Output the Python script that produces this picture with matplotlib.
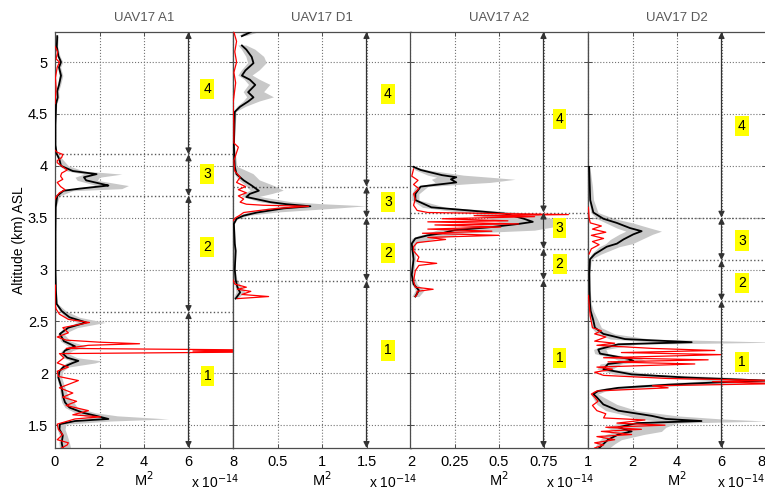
import numpy as np
import matplotlib
matplotlib.use("Agg")
import matplotlib.pyplot as plt

plt.rcParams['font.family'] = ['Liberation Sans', 'DejaVu Sans']

nan = np.nan

# ---------------- data ----------------
titles = ['UAV17 A1', 'UAV17 D1', 'UAV17 A2', 'UAV17 D2']
xlims = [8, 2, 1, 8]
xtick_vals = [[0, 2, 4, 6, 8], [0, 0.5, 1, 1.5, 2], [0, 0.25, 0.5, 0.75, 1], [0, 2, 4, 6, 8]]
xtick_labels = [['0', '2', '4', '6', '8'], ['', '0.5', '1', '1.5', '2'],
                ['', '0.25', '0.5', '0.75', '1'], ['', '2', '4', '6', '8']]
ytick_vals = [1.5, 2, 2.5, 3, 3.5, 4, 4.5, 5]
ytick_labels = ['1.5', '2', '2.5', '3', '3.5', '4', '4.5', '5']

# A1
a1_alt = [1.28, 1.33, 1.40, 1.46, 1.51, 1.54, 1.56, 1.59, 1.62, 1.67, 1.72, 1.77, 1.86, 1.96, 2.02,
          2.06, 2.10, 2.12, 2.15, 2.19, 2.22, 2.26, 2.31, 2.38, 2.44, 2.49, 2.54, 2.60, 2.67, 2.80,
          3.00, 3.35, 3.60, 3.71, 3.76, 3.78, 3.81, 3.82, 3.86, 3.89, 3.92, 3.95, 4.00, 4.06, 4.12,
          4.20, 4.40, 4.60, 4.66, 4.72, 4.78, 4.87, 4.95, 5.00, 5.06, 5.15, 5.25]
a1_black = [0.35, 0.30, 0.35, 0.20, 0.22, 0.9, 2.4, 1.85, 1.25, 0.65, 0.45, 0.37, 0.30, 0.15, 0.20,
            0.37, 0.8, 1.05, 0.55, 0.35, 0.45, 0.9, 0.4, 0.22, 0.6, 1.4, 0.65, 0.30, 0.07, 0.04,
            0.02, 0.02, 0.03, 0.10, 0.38, 1.1, 2.4, 2.2, 1.4, 1.3, 1.87, 0.8, 0.27, 0.2, 0.07,
            0.02, 0.02, 0.05, 0.12, 0.10, 0.18, 0.27, 0.18, 0.27, 0.15, 0.08, 0.10]
a1_gray_lo = [0.2, 0.18, 0.2, 0.1, 0.12, 0.5, 1.6, 1.3, 0.9, 0.45, 0.3, 0.25, 0.2, 0.08, 0.12,
              0.25, 0.5, 0.7, 0.35, 0.2, 0.3, 0.6, 0.25, 0.12, 0.4, 1.0, 0.45, 0.2, 0.04, 0.02,
              0.01, 0.01, 0.02, 0.06, 0.25, 0.8, 1.8, 1.7, 1.0, 0.9, 1.3, 0.55, 0.18, 0.12, 0.04,
              0.01, 0.01, 0.03, 0.08, 0.07, 0.12, 0.18, 0.12, 0.18, 0.1, 0.05, 0.06]
a1_gray_hi = [0.7, 0.65, 0.55, 0.45, 0.5, 2.5, 5.1, 2.8, 1.8, 1.0, 0.85, 0.6, 0.45, 0.3, 0.35,
              0.6, 1.8, 2.1, 1.0, 0.6, 0.8, 1.4, 0.7, 0.4, 1.0, 2.25, 1.1, 0.5, 0.12, 0.06,
              0.03, 0.03, 0.05, 0.2, 0.8, 3.0, 3.3, 3.0, 1.9, 2.0, 3.0, 1.3, 0.6, 0.35, 0.12,
              0.03, 0.03, 0.08, 0.18, 0.16, 0.25, 0.35, 0.25, 0.35, 0.22, 0.12, 0.15]
a1_red_alt = [1.28, 1.31, 1.33, 1.36, 1.41, 1.46, 1.51, 1.56, 1.58, 1.60, 1.64, 1.69, 1.73, 1.77,
              1.81, 1.86, 1.93, 1.97, 2.02, 2.06, 2.10, 2.15, 2.19, 2.205, 2.215, 2.225, 2.24,
              2.27, 2.285, 2.30, 2.32, 2.35, 2.39, 2.44, 2.49, 2.52, 2.57, 2.62, 2.67, 2.85,
              2.86,
              3.68, 3.70, 3.74, 3.77, 3.80, 3.84, 3.87, 3.90, 3.93, 3.96, 3.99, 4.03, 4.05, 4.08,
              4.11, 4.13, 4.15,
              4.16,
              4.60, 4.75, 4.85, 4.95, 5.00, 5.03, 5.10, 5.15]
a1_red = [0.3, 0.55, 0.6, 0.1, 0.35, 0.15, 0.1, 0.9, 2.05, 0.8, 1.5, 0.5, 0.97, 0.35,
          0.8, 0.2, 1.05, 0.15, 0.1, 0.6, 0.1, 0.4, 0.2, 9.0, 6.2, 9.0, 0.5,
          1.5, 3.8, 2.0, 0.5, 0.1, 0.6, 0.35, 1.55, 0.6, 0.2, 0.05, 0.0, 0.02,
          nan,
          0.0, 0.05, 0.2, 0.45, 0.25, 0.1, 0.35, 0.25, 0.3, 0.55, 0.35, 0.1, 0.1, 0.3,
          0.35, 0.1, 0.0,
          nan,
          0.0, 0.05, 0.02, 0.1, 0.2, 0.05, 0.12, 0.0]

# D1
d1_alt = [2.72, 2.78, 2.83, 2.90, 3.00, 3.18, 3.25, 3.44, 3.49, 3.52, 3.55, 3.59, 3.61, 3.63, 3.65,
          3.70, 3.73, 3.76, 3.81, 3.86, 3.92, 3.99, 4.20, 4.52, 4.57, 4.62, 4.66, 4.71, 4.78, 4.83,
          4.87, 4.92, 4.99, 5.05, 5.12, 5.16, 5.20, 5.25, 5.29]
d1_black = [0.03, 0.08, 0.05, 0.03, 0.02, 0.03, 0.02, 0.01, 0.04, 0.12, 0.27, 0.57, 0.87, 0.6, 0.42,
            0.15, 0.19, 0.29, 0.21, 0.12, 0.04, 0.02, 0.01, 0.02, 0.08, 0.17, 0.23, 0.17, 0.25, 0.19,
            0.10, 0.14, 0.23, 0.21, 0.15, 0.1, nan, 0.10, 0.20]
d1_gray_lo = [0.01, 0.04, 0.03, 0.01, 0.01, 0.01, 0.01, 0.0, 0.02, 0.07, 0.18, 0.4, 0.65, 0.45, 0.3,
              0.1, 0.12, 0.2, 0.14, 0.07, 0.02, 0.01, 0.0, 0.01, 0.05, 0.12, 0.16, 0.12, 0.18, 0.13,
              0.06, 0.1, 0.17, 0.15, 0.1, 0.06, nan, 0.07, 0.14]
d1_gray_hi = [0.06, 0.14, 0.1, 0.05, 0.03, 0.04, 0.03, 0.02, 0.06, 0.2, 0.5, 1.2, 1.5, 1.0, 0.65,
              0.3, 0.45, 0.57, 0.45, 0.3, 0.23, 0.05, 0.02, 0.04, 0.15, 0.3, 0.46, 0.35, 0.42, 0.3,
              0.22, 0.3, 0.38, 0.35, 0.25, 0.15, nan, 0.15, 0.3]
d1_red_alt = [2.72, 2.74, 2.76, 2.79, 2.81, 2.83, 2.86, 2.90,
              2.91,
              3.47, 3.50, 3.52, 3.55, 3.57, 3.59, 3.61, 3.62, 3.63, 3.65, 3.68, 3.71, 3.74, 3.77,
              3.80, 3.84, 3.89, 3.95, 4.05, 4.18, 4.22, 4.40, 4.60, 4.80, 4.90, 5.00, 5.10, 5.20,
              5.29]
d1_red = [0.05, 0.4, 0.1, 0.2, 0.05, 0.15, 0.02, 0.0,
          nan,
          0.0, 0.03, 0.07, 0.12, 0.3, 0.5, 0.85, 0.34, 0.15, 0.08, 0.12, 0.06, 0.15, 0.06,
          0.14, 0.04, 0.08, 0.02, 0.01, 0.06, 0.01, 0.01, 0.0, 0.03, 0.01, 0.04, 0.02, 0.04,
          0.01]

# A2
a2_alt = [2.74, 2.80, 2.86, 2.95, 3.10, 3.25, 3.30, 3.33, 3.35, 3.38, 3.41, 3.44, 3.46, 3.49, 3.54,
          3.57, 3.60, 3.67, 3.73, 3.80, 3.83, 3.84, 3.87, 3.89, 3.91, 3.96, 3.99]
a2_black = [0.03, 0.05, 0.02, 0.01, 0.02, 0.01, 0.03, 0.10, 0.18, 0.25, 0.46, 0.61, 0.69, 0.64, 0.53,
            0.33, 0.12, 0.03, 0.03, 0.06, 0.21, 0.26, 0.23, 0.26, 0.18, 0.06, 0.02]
a2_gray_lo = [0.01, 0.03, 0.01, 0.0, 0.01, 0.0, 0.01, 0.05, 0.1, 0.15, 0.3, 0.42, 0.5, 0.45, 0.36,
              0.2, 0.07, 0.01, 0.01, 0.03, 0.12, 0.14, 0.12, 0.15, 0.1, 0.03, 0.01]
a2_gray_hi = [0.05, 0.08, 0.04, 0.02, 0.03, 0.03, 0.15, 0.25, 0.3, 0.7, 0.8, 0.82, 0.82, 0.8, 0.7,
              0.45, 0.2, 0.05, 0.05, 0.1, 0.35, 0.45, 0.59, 0.45, 0.3, 0.1, 0.03]
a2_red_alt = [2.74, 2.76, 2.79, 2.81, 2.83, 2.89, 2.99, 3.04, 3.06, 3.08, 3.12, 3.18, 3.22, 3.26,
              3.29, 3.31, 3.33, 3.35, 3.37, 3.39, 3.41, 3.43, 3.44, 3.46, 3.47, 3.49, 3.51, 3.52,
              3.53, 3.55, 3.57, 3.62, 3.68, 3.73, 3.78, 3.82, 3.86, 3.90, 3.97]
a2_red = [0.03, 0.04, 0.04, 0.13, 0.03, 0.02, 0.03, 0.05, 0.15, 0.04, 0.05, 0.02, 0.02, 0.04,
          0.2, 0.1, 0.5, 0.07, 0.46, 0.1, 0.51, 0.14, 0.61, 0.1, 0.55, 0.18, 0.7, 0.36,
          0.89, 0.1, 0.04, 0.02, 0.03, 0.02, 0.05, 0.02, 0.045, 0.01, 0.02]

# D2
d2_alt = [1.27, 1.32, 1.36, 1.41, 1.44, 1.48, 1.52, 1.54, 1.56, 1.59, 1.64, 1.70, 1.77, 1.80, 1.83,
          1.86, 1.89, 1.91, 1.93, 1.96, 1.99, 2.04, 2.09, 2.12, 2.14, 2.19, 2.23, 2.28, 2.30, 2.33,
          2.38, 2.44, 2.51, 2.60, 2.67, 2.80, 2.96, 3.10, 3.15, 3.22, 3.25, 3.29, 3.34, 3.37, 3.40,
          3.45, 3.49, 3.55, 3.67, 3.80, 3.99]
d2_black = [0.45, 0.7, 0.9, 1.36, 1.96, 1.36, 2.2, 5.1, 3.5, 2.86, 1.36, 0.69, 0.39, 0.24, 0.46,
            1.36, 3.6, 5.56, 7.96, 4.36, 1.96, 0.69, 0.9, 2.04, 1.81, 0.54, 0.46, 1.36, 4.66, 1.66,
            0.69, 0.31, 0.24, 0.12, 0.09, 0.07, 0.06, 0.09, 0.31, 0.84, 1.3, 1.59, 2.04, 2.41, 1.89,
            1.29, 0.69, 0.24, 0.1, 0.08, 0.05]
d2_gray_lo = [0.25, 0.4, 0.55, 0.8, 1.2, 0.8, 1.4, 3.2, 2.2, 1.8, 0.8, 0.4, 0.2, 0.12, 0.25,
              0.8, 2.4, 3.8, 5.5, 3.0, 1.2, 0.4, 0.55, 1.4, 1.2, 0.3, 0.25, 0.8, 3.0, 1.0,
              0.4, 0.15, 0.12, 0.06, 0.04, 0.03, 0.03, 0.04, 0.15, 0.5, 0.8, 1.0, 1.4, 1.7, 1.3,
              0.8, 0.4, 0.12, 0.04, 0.03, 0.02]
d2_gray_hi = [0.9, 1.2, 1.5, 2.5, 3.3, 3.5, 4.0, 8.0, 6.0, 4.0, 2.2, 1.3, 0.7, 0.45, 0.8,
              2.2, 5.0, 8.0, 8.5, 6.5, 3.0, 1.1, 1.5, 2.6, 2.4, 0.9, 0.8, 2.2, 8.5, 2.8,
              1.2, 0.6, 0.45, 0.25, 0.15, 0.1, 0.08, 0.15, 0.6, 1.4, 2.0, 2.4, 2.9, 3.3, 2.8,
              2.0, 1.2, 0.45, 0.25, 0.2, 0.08]
d2_red_alt = [1.28, 1.31, 1.33, 1.36, 1.39, 1.41, 1.44, 1.46, 1.48, 1.50, 1.52, 1.55, 1.57, 1.61,
              1.64, 1.69, 1.73, 1.77, 1.80, 1.83, 1.86, 1.88, 1.90, 1.92, 1.93, 1.95, 1.98, 2.01,
              2.04, 2.06, 2.09, 2.11, 2.13, 2.15, 2.18, 2.20, 2.22, 2.24, 2.27, 2.29, 2.31, 2.35,
              2.38, 2.41, 2.44, 2.55, 2.67, 2.75,
              2.76,
              3.15, 3.20, 3.24, 3.27, 3.30, 3.33, 3.36, 3.39, 3.42, 3.45, 3.50, 3.60]
d2_red = [0.3, 0.7, 0.3, 1.2, 0.4, 1.96, 0.6, 2.4, 0.8, 3.46, 1.3, 2.56, 0.7, 0.8,
          0.4, 0.2, 0.45, 0.3, 0.15, 0.4, 3.6, 2.9, 8.5, 5.6, 8.5, 3.6, 0.7, 0.3,
          1.1, 0.4, 4.8, 0.9, 5.4, 0.7, 6.0, 1.5, 5.7, 2.9, 0.4, 1.2, 0.3, 0.8,
          0.3, 0.6, 0.2, 0.1, 0.05, 0.02,
          nan,
          0.05, 0.15, 0.5, 0.2, 0.7, 0.15, 0.8, 0.2, 0.6, 0.1, 0.05, 0.02]

# layer boundaries, arrow positions and layer labels
bounds = [[1.28, 2.59, 3.71, 4.11, 5.29],
          [1.28, 2.89, 3.50, 3.80, 5.29],
          [1.28, 2.90, 3.20, 3.55, 5.29],
          [1.28, 2.70, 3.09, 3.50, 5.29]]
arrow_x = [6, 1.5, 0.75, 6]
label_x = [6.85, 1.74, 0.84, 6.92]
label_y = [[1.97, 3.22, 3.92, 4.74],
           [2.22, 3.16, 3.65, 4.69],
           [2.15, 3.05, 3.40, 4.45],
           [2.11, 2.87, 3.28, 4.38]]

panels = [
    (a1_alt, a1_black, a1_gray_lo, a1_gray_hi, a1_red_alt, a1_red),
    (d1_alt, d1_black, d1_gray_lo, d1_gray_hi, d1_red_alt, d1_red),
    (a2_alt, a2_black, a2_gray_lo, a2_gray_hi, a2_red_alt, a2_red),
    (d2_alt, d2_black, d2_gray_lo, d2_gray_hi, d2_red_alt, d2_red),
]

# ---------------- figure ----------------
fig = plt.figure(figsize=(7.65, 4.92), dpi=100)
W, H = 765.0, 492.0
lefts = [55, 233, 410, 588]
ax_bottom = (H - 448) / H
ax_height = (448 - 32) / H

for i in range(4):
    alt, blk, glo, ghi, ralt, red = panels[i]
    ax = fig.add_axes([lefts[i] / W, ax_bottom, 178 / W, ax_height])

    ax.fill_betweenx(alt, glo, ghi, color='#c8c8c8', linewidth=0, zorder=1)
    ax.plot(blk, alt, color='black', linewidth=1.3, zorder=3)
    ax.plot(red, ralt, color='red', linewidth=0.9, zorder=4)

    ax.set_xlim(0, xlims[i])
    ax.set_ylim(1.28, 5.29)
    ax.set_xticks(xtick_vals[i])
    ax.set_xticklabels(xtick_labels[i], fontsize=10.5)
    ax.set_yticks(ytick_vals)
    if i == 0:
        ax.set_yticklabels(ytick_labels, fontsize=10.5)
        ax.set_ylabel('Altitude (km) ASL', fontsize=10, labelpad=1)
    else:
        ax.set_yticklabels([])
    ax.tick_params(direction='in', length=3, width=0.7, color='0.3',
                   top=True, right=True, pad=5)
    ax.grid(True, linestyle=':', color='0.45', linewidth=0.8)
    ax.set_axisbelow(True)
    for sp in ax.spines.values():
        sp.set_color('0.3')
        sp.set_linewidth(0.9)

    ax.set_title(titles[i], fontsize=9.5, color='0.35', pad=8)

    # boundary dotted lines
    b = bounds[i]
    for yb in b[1:-1]:
        ax.axhline(yb, color='0.35', linestyle=':', linewidth=1.0, zorder=2)

    # double-headed arrows for each layer
    for k in range(4):
        ax.annotate('', xy=(arrow_x[i], b[k]), xytext=(arrow_x[i], b[k + 1]),
                    arrowprops=dict(arrowstyle='<|-|>', color='0.2', lw=0.9,
                                    mutation_scale=9, shrinkA=0, shrinkB=0),
                    zorder=5)
        ax.text(label_x[i], label_y[i][k], str(k + 1), fontsize=10,
                ha='center', va='center', zorder=6,
                bbox=dict(boxstyle='square,pad=0.22', facecolor='#ffff00',
                          edgecolor='none'))

    ax.text(0.5, -0.077, 'M$^2$', transform=ax.transAxes, ha='center',
            va='center', fontsize=10.5)
    if i == 3:
        # last panel runs to the figure edge: keep its texts inside
        ax.get_xticklabels()[-1].set_horizontalalignment('right')
        ax.text(0.995, -0.08, 'x 10$^{-14}$', transform=ax.transAxes, ha='right',
                va='center', fontsize=10)
    else:
        ax.text(0.765, -0.08, 'x 10$^{-14}$', transform=ax.transAxes, ha='left',
                va='center', fontsize=10)

fig.savefig('out.png', dpi=100)
